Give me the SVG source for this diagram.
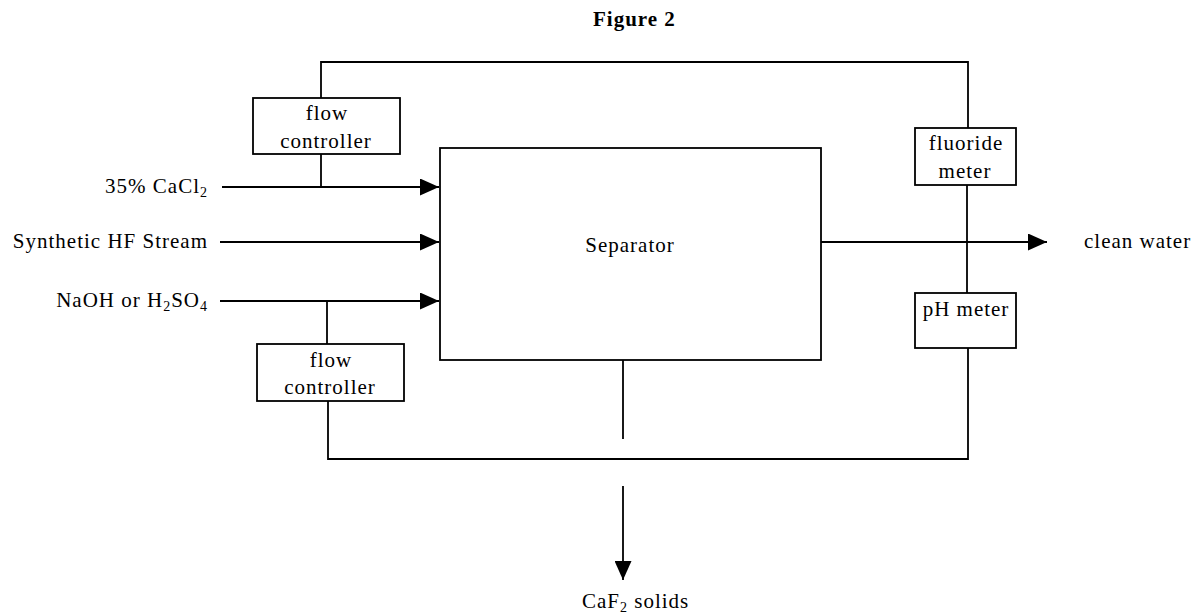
<svg xmlns="http://www.w3.org/2000/svg" width="1198" height="615" viewBox="0 0 1198 615">
<style>
text{font-family:"Liberation Serif","Times New Roman",serif;font-size:21px;fill:#000;letter-spacing:1px}
.box{fill:#fff;stroke:#000;stroke-width:1.8}
.ln{fill:none;stroke:#000;stroke-width:1.8}
.sub{font-size:14px}
.title{font-weight:bold}
</style>
<defs>
<marker id="ah" viewBox="0 0 19 17" refX="19" refY="8.5" markerWidth="19" markerHeight="17" markerUnits="userSpaceOnUse" orient="auto">
<path d="M0,0 L19,8.5 L0,17 Z" fill="#000"/>
</marker>
</defs>
<text class="title" x="593" y="26">Figure 2</text>
<g id="connectors">
<polyline class="ln" points="321,98 321,62 968,62 968,128"/>
<line class="ln" x1="321" y1="154" x2="321" y2="187"/>
<line class="ln" x1="222" y1="187" x2="439" y2="187" marker-end="url(#ah)"/>
<line class="ln" x1="220" y1="242" x2="439" y2="242" marker-end="url(#ah)"/>
<line class="ln" x1="220" y1="301" x2="439" y2="301" marker-end="url(#ah)"/>
<line class="ln" x1="327" y1="301" x2="327" y2="344"/>
<polyline class="ln" points="328,401 328,459 968,459 968,348"/>
<line class="ln" x1="967" y1="185" x2="967" y2="293"/>
<line class="ln" x1="821" y1="242" x2="1047" y2="242" marker-end="url(#ah)"/>
<line class="ln" x1="623" y1="360" x2="623" y2="439"/>
<line class="ln" x1="623" y1="486" x2="623" y2="580" marker-end="url(#ah)"/>
</g>
<g id="separator">
<rect class="box" x="440" y="148" width="381" height="212"/>
<text x="630" y="252" text-anchor="middle">Separator</text>
</g>
<g id="flow-controller-top">
<rect class="box" x="253" y="98" width="147" height="56"/>
<text x="327" y="120" text-anchor="middle">flow</text>
<text x="326" y="148" text-anchor="middle">controller</text>
</g>
<g id="flow-controller-bottom">
<rect class="box" x="257" y="344" width="147" height="57"/>
<text x="331" y="367" text-anchor="middle">flow</text>
<text x="330" y="394" text-anchor="middle">controller</text>
</g>
<g id="fluoride-meter">
<rect class="box" x="915" y="128" width="101" height="57"/>
<text x="966" y="150" text-anchor="middle">fluoride</text>
<text x="965" y="178" text-anchor="middle">meter</text>
</g>
<g id="ph-meter">
<rect class="box" x="915" y="293" width="101" height="55"/>
<text x="966" y="316" text-anchor="middle">pH meter</text>
</g>
<g id="label-cacl2">
<text x="208" y="193" text-anchor="end">35% CaCl<tspan class="sub" dy="4">2</tspan></text>
</g>
<g id="label-hf">
<text x="208" y="248" text-anchor="end">Synthetic HF Stream</text>
</g>
<g id="label-naoh">
<text x="208" y="307" text-anchor="end">NaOH or H<tspan class="sub" dy="4">2</tspan><tspan dy="-4">SO</tspan><tspan class="sub" dy="4">4</tspan></text>
</g>
<g id="label-clean-water">
<text x="1084" y="248">clean water</text>
</g>
<g id="label-caf2">
<text x="582" y="608">CaF<tspan class="sub" dy="4">2</tspan><tspan dy="-4"> solids</tspan></text>
</g>
</svg>
